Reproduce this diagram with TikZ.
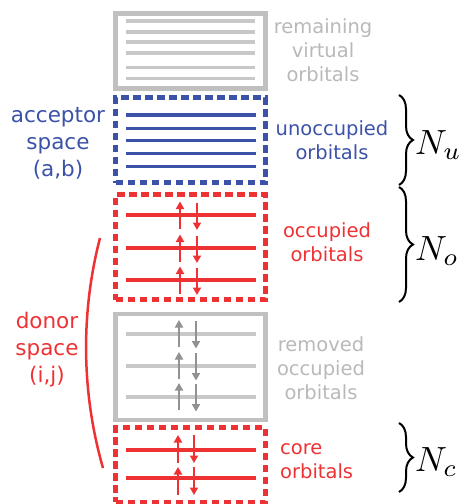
\documentclass[tikz,border=0pt]{standalone}
\usepackage{fontspec}
\setmainfont{DejaVu Sans}
\usetikzlibrary{arrows.meta,decorations.pathreplacing}
\definecolor{accblue}{RGB}{60,82,168}
\definecolor{donred}{RGB}{238,50,52}
\definecolor{boxgray}{RGB}{192,192,192}
\definecolor{lvlgray}{RGB}{200,200,200}
\definecolor{txtgray}{RGB}{185,185,185}
\definecolor{arrgray}{RGB}{145,145,145}
\tikzset{
  orbbox/.style={draw, line width=4.2pt, minimum width=150pt, inner sep=0pt},
  dashbox/.style={orbbox, dash pattern=on 7.5pt off 4.5pt},
  lvl/.style={line width=3.5pt},
  glvl/.style={line width=3.2pt, draw=lvlgray},
  spin/.style={line width=2.2pt, -{Triangle[width=8pt,length=7.5pt]}},
  lbl/.style={font=\fontsize{19.5}{24}\selectfont, align=center, inner sep=0pt},
  sidelbl/.style={font=\fontsize{21.5}{27}\selectfont, align=center, inner sep=0pt},
  cnt/.style={anchor=base west, inner sep=0pt},
  brc/.style={decorate, decoration={brace, amplitude=14pt}, line width=2pt},
}
\begin{document}
\begin{tikzpicture}[x=1pt,y=-1pt]
\useasboundingbox (0,0) rectangle (463,504);

% boxes
\node[orbbox, draw=boxgray, minimum height=75pt] (rv) at (190.5,51) {};
\node[dashbox, draw=accblue, minimum height=85pt] (un) at (190.5,140) {};
\node[dashbox, draw=donred, minimum height=105pt] (oc) at (190.5,247) {};
\node[orbbox, draw=boxgray, minimum height=106pt] (rm) at (190.5,367) {};
\node[dashbox, draw=donred, minimum height=74.5pt] (co) at (190.5,464.75) {};

% levels
\foreach \y in {21,32,42,53,67.7,78.3}
  \draw[glvl] (126,\y) -- (255,\y);
\foreach \y in {115,128.3,140.7,153.3,166.7}
  \draw[lvl, accblue] (126,\y) -- (256,\y);
\foreach \y in {215,248,280}
  \draw[lvl, donred] (126,\y) -- (256,\y);
\foreach \y in {334,366,397}
  \draw[glvl] (126,\y) -- (256,\y);
\foreach \y in {450,478}
  \draw[lvl, donred] (126,\y) -- (256,\y);

% spins
\foreach \y in {215,248,280}{
  \draw[spin, donred] (180,\y+14) -- (180,\y-13.5);
  \draw[spin, donred] (197,\y-12.5) -- (197,\y+15);
}
\foreach \y in {334,366,397}{
  \draw[spin, arrgray] (179,\y+13) -- (179,\y-14);
  \draw[spin, arrgray] (196,\y-13) -- (196,\y+14.5);
}
\foreach \y in {449,481}{
  \draw[spin, donred] (178,\y+14) -- (178,\y-14);
  \draw[spin, donred] (194,\y-14) -- (194,\y+14);
}

% right labels
\node[lbl, text=txtgray] (lrv) at (323,50) {remaining\\virtual\\orbitals};
\node[lbl, text=accblue] (lun) at (332,140.5) {unoccupied\\orbitals};
\node[lbl, text=donred] (loc) at (327,242.5) {occupied\\orbitals};
\node[lbl, text=txtgray] (lrm) at (321,368) {removed\\occupied\\orbitals};
\node[lbl, text=donred, align=left, anchor=west] (lco) at (280,461.5) {core\\orbitals};

% left labels
\node[sidelbl, text=accblue] (acc) at (58,143) {acceptor\\space\\(a,b)};
\node[sidelbl, text=donred] (don) at (47,350) {donor\\space\\(i,j)};

% donor arc
\coordinate (arcA) at (100,238);
\coordinate (arcB) at (103,468);
\draw[donred, line width=2.5pt] (arcA) .. controls (80,315) and (82,395) .. (arcB);

% braces
\coordinate (bu1) at (399,95);  \coordinate (bu2) at (399,185);
\coordinate (bo1) at (399,187); \coordinate (bo2) at (399,302);
\coordinate (bc1) at (399,423); \coordinate (bc2) at (399,492);
\draw[brc] (bu1) -- (bu2);
\draw[brc] (bo1) -- (bo2);
\draw[brc] (bc1) -- (bc2);
\node[cnt] (nu) at (415,154) {\scalebox{3.5}{$N_u$}};
\node[cnt] (no) at (415,260) {\scalebox{3.5}{$N_o$}};
\node[cnt] (nc) at (415,471) {\scalebox{3.5}{$N_c$}};
\end{tikzpicture}
\end{document}
